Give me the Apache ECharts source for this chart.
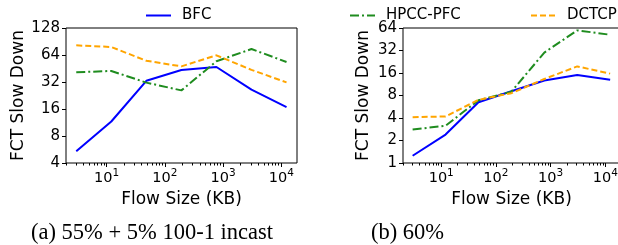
<!DOCTYPE html>
<html>
<head>
<meta charset="utf-8">
<script src="https://cdn.jsdelivr.net/npm/echarts@6/dist/echarts.min.js"></script>
<style>
  html, body { margin: 0; padding: 0; background: #fff; }
  #chart { width: 618px; height: 245px; }
</style>
</head>
<body>
<div id="chart"></div>
<script>
// flow sizes (KB)
const flowSizes = [3, 12, 48, 192, 768, 3072, 12288];

// (a) 55% + 5% 100-1 incast
const bfcA = [5.4, 11.6, 33, 43.5, 47, 26.3, 16.8];
const hpccA = [41, 42.5, 31.5, 25.8, 54.5, 74.6, 53.5];
const dctcpA = [82, 78.6, 55.2, 47.8, 63.5, 43.7, 31.7];

// (b) 60%
const bfcB = [1.25, 2.4, 6.5, 9.1, 12.7, 15, 13];
const hpccB = [2.8, 3.15, 6.9, 9, 30, 59.5, 52];
const dctcpB = [4.1, 4.2, 7.0, 8.6, 13.3, 19.6, 15.7];

const majorX = [10, 100, 1000, 10000];
const minorX = [];
[1, 10, 100, 1000, 10000].forEach(function (d) {
  for (let k = 2; k <= 9; k++) minorX.push(d * k);
});

const FONT = "DejaVu Sans";
const pair = (ys) => flowSizes.map((x, i) => [x, ys[i]]);

function xAxes(gridIndex) {
  return [
    {
      type: "log", logBase: 10, gridIndex: gridIndex, min: 2, max: 18600,
      name: "Flow Size (KB)", nameLocation: "middle", nameGap: 28,
      nameTextStyle: { fontFamily: FONT, fontSize: 17, color: "#000" },
      axisLine: { show: false },
      splitLine: { show: false },
      axisTick: { customValues: majorX, length: 4, lineStyle: { color: "#000" } },
      axisLabel: {
        customValues: majorX, margin: 5, color: "#000",
        formatter: function (v) {
          return "{b|10}{s|" + Math.round(Math.log10(v)) + "}";
        },
        rich: {
          b: { fontFamily: FONT, fontSize: 14.5, color: "#000" },
          s: { fontFamily: FONT, fontSize: 10.5, color: "#000", padding: [0, 0, 9, 0] }
        }
      }
    },
    {
      type: "log", logBase: 10, gridIndex: gridIndex, min: 2, max: 18600,
      position: "bottom",
      axisLine: { show: false },
      splitLine: { show: false },
      axisLabel: { show: false },
      axisTick: { customValues: minorX, length: 2.5, lineStyle: { color: "#000" } }
    }
  ];
}

function yAxis(gridIndex, min, max, gap) {
  return {
    type: "log", logBase: 2, gridIndex: gridIndex, min: min, max: max,
    name: "FCT Slow Down", nameLocation: "middle", nameGap: gap,
    nameTextStyle: { fontFamily: FONT, fontSize: 17, color: "#000" },
    axisLine: { show: false },
    splitLine: { show: false },
    axisTick: { show: true, length: 4, lineStyle: { color: "#000" } },
    axisLabel: {
      fontFamily: FONT, fontSize: 15, color: "#000", margin: 6,
      formatter: function (v) { return String(Math.round(v)); }
    }
  };
}

function lines(gridIndex, bfc, hpcc, dctcp) {
  const xi = gridIndex * 2;
  return [
    { name: "BFC", type: "line", xAxisIndex: xi, yAxisIndex: gridIndex, data: pair(bfc),
      symbol: "none", showSymbol: false, lineStyle: { color: "#0000ff", width: 2 }, itemStyle: { color: "#0000ff" } },
    { name: "HPCC-PFC", type: "line", xAxisIndex: xi, yAxisIndex: gridIndex, data: pair(hpcc),
      symbol: "none", showSymbol: false, lineStyle: { color: "#1f8c1f", width: 2, type: [9, 3, 2, 3] }, itemStyle: { color: "#1f8c1f" } },
    { name: "DCTCP", type: "line", xAxisIndex: xi, yAxisIndex: gridIndex, data: pair(dctcp),
      symbol: "none", showSymbol: false, lineStyle: { color: "#ffa500", width: 2, type: [6, 3] }, itemStyle: { color: "#ffa500" } }
  ];
}

function legend(name, left) {
  return {
    data: [name], left: left, top: 3, itemWidth: 25, itemHeight: 14,
    selectedMode: false,
    itemStyle: { opacity: 0 },
    textStyle: { fontFamily: FONT, fontSize: 15, color: "#000", padding: [0, 0, 0, 6] }
  };
}

const chart = echarts.init(document.getElementById("chart"), null, { renderer: "canvas" });
chart.setOption({
  animation: false,
  backgroundColor: "#fff",
  title: [
    { text: "(a) 55% + 5% 100-1 incast", left: 31, top: 222, padding: 0,
      textStyle: { fontFamily: "Liberation Serif", fontSize: 22.5, fontWeight: "normal", color: "#000" } },
    { text: "(b) 60%", left: 371, top: 222, padding: 0,
      textStyle: { fontFamily: "Liberation Serif", fontSize: 22.5, fontWeight: "normal", color: "#000" } }
  ],
  legend: [legend("BFC", 140), legend("HPCC-PFC", 344), legend("DCTCP", 525)],
  grid: [
    { left: 66, top: 28, width: 231, height: 135, show: true, borderColor: "#000", borderWidth: 1, outerBoundsMode: "none" },
    { left: 403, top: 28, width: 217, height: 135, show: true, borderColor: "#000", borderWidth: 1, outerBoundsMode: "none" }
  ],
  xAxis: xAxes(0).concat(xAxes(1)),
  yAxis: [yAxis(0, 4, 128, 36), yAxis(1, 1, 64, 31)],
  series: lines(0, bfcA, hpccA, dctcpA).concat(lines(1, bfcB, hpccB, dctcpB))
});
</script>
</body>
</html>
